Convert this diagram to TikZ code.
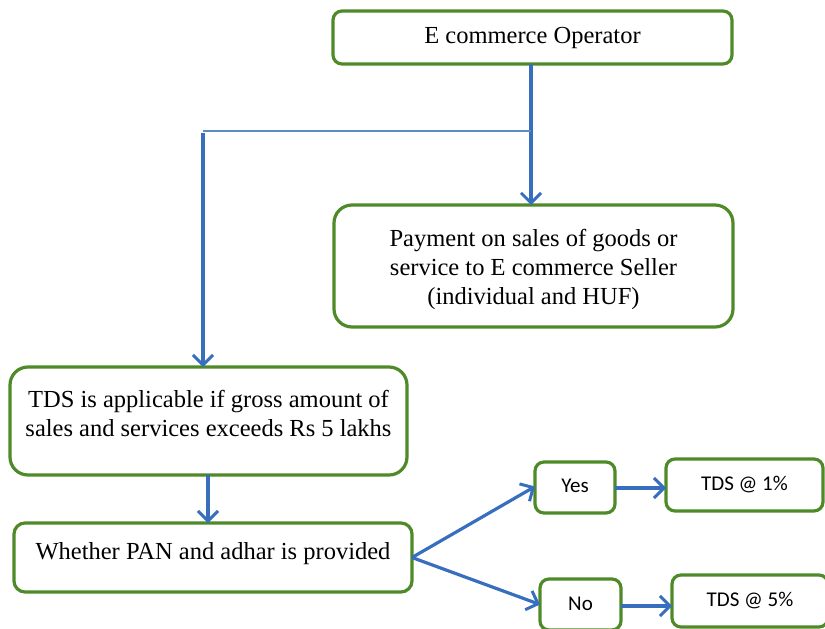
\documentclass[tikz,border=0pt]{standalone}
\usepackage{fontspec}
\setmainfont{Liberation Serif}
\newfontfamily\calib{Carlito}
\usetikzlibrary{arrows.meta}
\definecolor{boxgreen}{RGB}{78,138,40}
\definecolor{flowblue}{RGB}{56,110,190}
\definecolor{thinblue}{RGB}{90,140,200}
% top-aligned text inside a box of fixed size
\newcommand{\topbox}[4]{\parbox[c][#1][t]{#2}{\centering\vspace*{#3}#4}}
\begin{document}
\begin{tikzpicture}[x=1pt,y=-1pt,
  every node/.style={inner sep=0pt,outer sep=0pt},
  stepbox/.style={draw=boxgreen,line width=3.2pt,fill=white,align=center,
    font=\fontsize{24.5}{29}\selectfont},
  smallbox/.style={draw=boxgreen,line width=3.2pt,rounded corners=9pt,align=center,
    font=\calib\fontsize{21}{25}\selectfont},
  arr/.style={draw=flowblue,line width=3.2pt,
    -{Straight Barb[length=10pt,width=20pt,line width=3pt]}},
  tie/.style={draw=thinblue,line width=1.3pt}]
\useasboundingbox (0,0) rectangle (825,629);

% boxes
\node[stepbox,rounded corners=9pt,minimum width=399pt,minimum height=53pt]
  (op) at (532.5,37.5) {\raisebox{-2pt}{E commerce Operator}};
\node[stepbox,rounded corners=18pt,minimum width=399pt,minimum height=122pt]
  (pay) at (533.5,266) {\topbox{122pt}{399pt}{24pt}{Payment on sales of goods or\\
   service to E commerce Seller\\ (individual and HUF)}};
\node[stepbox,rounded corners=18pt,minimum width=397pt,minimum height=108pt]
  (tds) at (208.5,421) {\topbox{108pt}{397pt}{23pt}{TDS is applicable if gross amount of\\
   sales and services exceeds Rs 5 lakhs}};
\node[stepbox,rounded corners=11pt,minimum width=398pt,minimum height=69pt]
  (pan) at (213,557.5) {\topbox{69pt}{398pt}{19pt}{Whether PAN and adhar is provided}};

\node[smallbox,minimum width=80pt,minimum height=51pt] (yes) at (575,487.5) {\raisebox{3pt}{Yes}};
\node[smallbox,minimum width=157pt,minimum height=52pt] (one) at (744.5,485) {\raisebox{2pt}{TDS @ 1\%}};
\node[smallbox,minimum width=81pt,minimum height=51pt] (no) at (580.5,604.5) {\raisebox{2pt}{No}};
\node[smallbox,minimum width=156pt,minimum height=52pt] (five) at (750,601) {\raisebox{3pt}{TDS @ 5\%}};

% connectors
\coordinate (split) at (531,131);
\coordinate (left) at (203,131);
\draw[arr] (op.south -| split) -- (split |- pay.north);
\draw[tie] (split) -- (left);
\draw[arr] ([yshift=-2pt]left) -- (left |- tds.north);
\draw[arr] ([xshift=-0.5pt]tds.south) -- ([xshift=-0.5pt]tds.south |- pan.north);
\draw[arr] (pan.east) -- ([yshift=1pt]yes.west);
\draw[arr] (pan.east) -- (no.west);
\draw[arr] ([yshift=-0.5pt]yes.east) -- ([yshift=-0.5pt]yes.east -| one.west);
\draw[arr] ([yshift=-1.5pt]no.east) -- ([yshift=-1.5pt]no.east -| five.west);
\end{tikzpicture}
\end{document}
